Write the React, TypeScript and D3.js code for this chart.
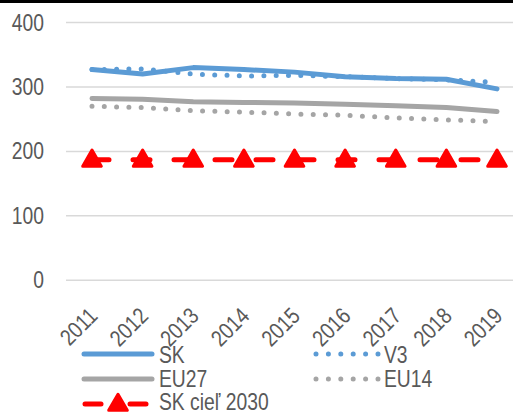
import React from "react";
import * as d3 from "d3";

const years = ["2011", "2012", "2013", "2014", "2015", "2016", "2017", "2018", "2019"];
const skValues = [327, 320, 330, 327, 323, 316, 313, 312, 297];
const v3Values = [327, 328, 320, 317, 318, 316, 313, 311, 307];
const eu27Values = [282, 281, 277, 276, 275, 273, 271, 268, 262];
const eu14Values = [270, 268, 263, 261, 258, 256, 252, 249, 246];
const targetValues = [187, 187, 187, 187, 187, 187, 187, 187, 187];
const yTicks = [0, 100, 200, 300, 400];

const W = 513;
const H = 412;
const FONT = "'Liberation Sans', Arial, sans-serif";
const TEXT = "#595959";
const BLUE = "#5B9BD5";
const GRAY = "#A5A5A5";
const RED = "#FF0000";
const NARROW = 0.84;

// Condensed label: horizontally squeezed sans text
function NText(props: {
  x: number;
  y: number;
  rotate?: number;
  anchor?: "start" | "end" | "middle";
  dy?: string;
  size?: number;
  children: React.ReactNode;
}) {
  const { x, y, rotate = 0, anchor = "start", dy = "0.35em", size = 23, children } = props;
  return (
    <text
      transform={`translate(${x},${y}) rotate(${rotate}) scale(${NARROW},1)`}
      textAnchor={anchor}
      dy={dy}
      fontSize={size}
      fill={TEXT}
    >
      {children}
    </text>
  );
}

export default function App() {
  const x = d3.scalePoint<string>().domain(years).range([92, 497]);
  const y = d3.scaleLinear().domain([0, 400]).range([280.3, 22.5]);
  const line = d3
    .line<number>()
    .x((_, i) => x(years[i]) as number)
    .y((d) => y(d));
  const tri = d3.symbol().type(d3.symbolTriangle).size(150);

  return (
    <svg
      width={W}
      height={H}
      style={{ position: "fixed", left: 0, top: 0, background: "#fff" }}
      fontFamily={FONT}
    >
      <rect x={0} y={0} width={W} height={3} fill="#000" />
      {yTicks.map((t) => (
        <g key={t}>
          <line x1={66} x2={W} y1={y(t)} y2={y(t)} stroke="#D9D9D9" strokeWidth={1.5} />
          <NText x={44} y={y(t)} anchor="end">
            {t}
          </NText>
        </g>
      ))}
      {years.map((yr) => (
        <NText key={yr} x={(x(yr) as number) - 4.5} y={306} rotate={-45} anchor="end" dy="0.7em">
          {yr}
        </NText>
      ))}
      <path d={line(eu14Values) || ""} fill="none" stroke={GRAY} strokeWidth={5} strokeLinecap="round" strokeDasharray="0 12.3" />
      <path d={line(eu27Values) || ""} fill="none" stroke={GRAY} strokeWidth={5} strokeLinecap="round" strokeLinejoin="round" />
      <path d={line(skValues) || ""} fill="none" stroke={BLUE} strokeWidth={5} strokeLinecap="round" strokeLinejoin="round" />
      <path d={line(v3Values) || ""} fill="none" stroke={BLUE} strokeWidth={5} strokeLinecap="round" strokeDasharray="0 12.3" />
      <path d={line(targetValues) || ""} fill="none" stroke={RED} strokeWidth={5} strokeLinecap="round" strokeDasharray="17 24" />
      {targetValues.map((v, i) => (
        <path
          key={i}
          d={tri() || ""}
          transform={`translate(${x(years[i])},${y(v) + 1})`}
          fill={RED}
          stroke={RED}
          strokeWidth={3}
          strokeLinejoin="round"
        />
      ))}
      {/* legend */}
      <g>
        <line x1={84} x2={152} y1={354} y2={354} stroke={BLUE} strokeWidth={5} strokeLinecap="round" />
        <NText x={159} y={355}>SK</NText>
        <line x1={316} x2={378} y1={354} y2={354} stroke={BLUE} strokeWidth={5} strokeLinecap="round" strokeDasharray="0 12.4" />
        <NText x={384} y={355}>V3</NText>
        <line x1={84} x2={152} y1={379} y2={379} stroke={GRAY} strokeWidth={5} strokeLinecap="round" />
        <NText x={159} y={379}>EU27</NText>
        <line x1={316} x2={378} y1={379} y2={379} stroke={GRAY} strokeWidth={5} strokeLinecap="round" strokeDasharray="0 12.4" />
        <NText x={384} y={379}>EU14</NText>
        <line x1={85} x2={101} y1={404} y2={404} stroke={RED} strokeWidth={5} strokeLinecap="round" />
        <line x1={130} x2={146} y1={404} y2={404} stroke={RED} strokeWidth={5} strokeLinecap="round" />
        <path d={tri() || ""} transform="translate(118,405)" fill={RED} stroke={RED} strokeWidth={3} strokeLinejoin="round" />
        <NText x={159} y={401.5}>SK cieľ 2030</NText>
      </g>
    </svg>
  );
}
